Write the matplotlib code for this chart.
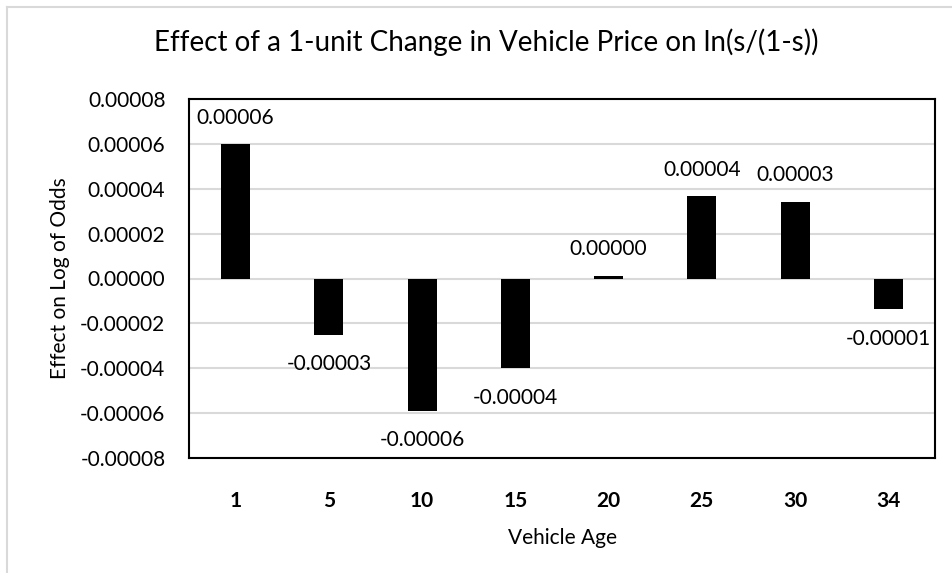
import matplotlib
matplotlib.use('Agg')
import matplotlib.pyplot as plt
from matplotlib.lines import Line2D
import numpy as np

plt.rcParams['font.family'] = ['Lato', 'DejaVu Sans']

ages = ['1', '5', '10', '15', '20', '25', '30', '34']
effects = [0.0000599, -0.0000252, -0.0000590, -0.0000401, 0.0000013, 0.0000368, 0.0000342, -0.0000138]
yticks = [-0.00008, -0.00006, -0.00004, -0.00002, 0.0, 0.00002, 0.00004, 0.00006, 0.00008]

fig = plt.figure(figsize=(9.53, 5.73), dpi=100)
ax = fig.add_axes([189/953, 115/573, 746/953, 359/573])

x = np.arange(len(ages))
ax.bar(x, effects, width=0.31, color='black', zorder=3)

for xi, v in zip(x, effects):
    off = 19 if v >= 0 else -21
    ax.annotate(f'{v:.5f}', (xi, v), xytext=(0, off), textcoords='offset points',
                ha='center', va='center', fontsize=15)

ax.set_xlim(-0.5, len(ages) - 0.5)
ax.set_ylim(-0.00008, 0.00008)
ax.set_yticks(yticks)
ax.set_yticklabels([f'{t:.5f}' for t in yticks], fontsize=15)
ax.set_xticks(x)
ax.set_xticklabels(ages, fontsize=15, fontweight='bold')
ax.tick_params(axis='both', length=0)
ax.tick_params(axis='y', pad=17)
ax.tick_params(axis='x', pad=24)
ax.grid(axis='y', color='#d9d9d9', linewidth=1.5, zorder=0)
for s in ax.spines.values():
    s.set_linewidth(1.5)
    s.set_color('black')

ax.set_xlabel('Vehicle Age', fontsize=15, labelpad=12)
ax.set_ylabel('Effect on Log of Odds', fontsize=15, labelpad=7)

fig.text(0.51, 0.927, 'Effect of a 1-unit Change in Vehicle Price on ln(s/(1-s))',
         ha='center', va='center', fontsize=20)

# light outer chart border (cropped)
fig.add_artist(Line2D([7/953, 7/953], [0, 1 - 7/573], color='#d9d9d9', linewidth=1.5))
fig.add_artist(Line2D([7/953, 1], [1 - 7/573, 1 - 7/573], color='#d9d9d9', linewidth=1.5))

fig.savefig('out.png', dpi=100)
